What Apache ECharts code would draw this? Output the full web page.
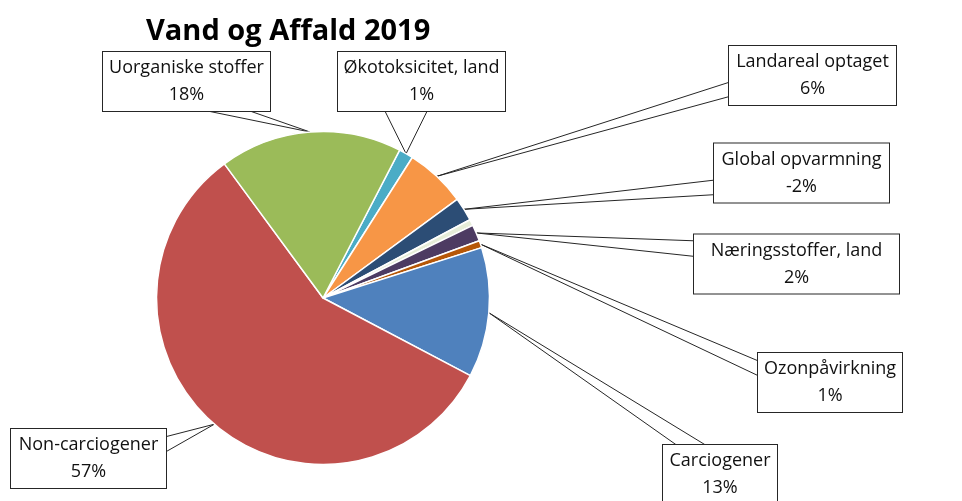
<!DOCTYPE html>
<html>
<head>
<meta charset="utf-8">
<script src="https://cdn.jsdelivr.net/npm/echarts@6/dist/echarts.min.js"></script>
<style>
  html, body { margin: 0; padding: 0; background: #fff; }
  #chart { width: 962px; height: 501px; }
</style>
</head>
<body>
<div id="chart"></div>
<script>
// slices in clockwise order, starting at the top of the light blue slice
const categories = ['Økotoksicitet, land', 'Landareal optaget', 'Global opvarmning', '', 'Næringsstoffer, land', 'Ozonpåvirkning', 'Carciogener', 'Non-carciogener', 'Uorganiske stoffer'];
const values = [1.4, 5.9, -2.3, 0.6, 1.6, 0.7, 12.6, 57.2, 17.7];
const colors = ['#4BACC6', '#F79646', '#2C4D75', '#E6EDD8', '#4D3B62', '#B65708', '#4F81BD', '#C0504D', '#9BBB59'];

// callout boxes [left, top, right, bottom]; null = no label
const labelBoxes = [
  [337, 52, 506, 111],
  [728, 47, 897, 104],
  [713, 144, 890, 202],
  null,
  [693, 233, 900, 295],
  [757, 353, 903, 412],
  [662, 445, 778, 504],
  [10, 429, 167, 488],
  [102, 52, 271, 111]
];

const clamp = (v, lo, hi) => Math.min(Math.max(v, lo), hi);

const seriesData = categories.map((name, i) => {
  const box = labelBoxes[i];
  const item = {
    name,
    value: Math.abs(values[i]),
    itemStyle: { color: colors[i] }
  };
  if (box) {
    item.label = { width: box[2] - box[0] - 2 };
  } else {
    item.label = { show: false };
    item.labelLine = { show: false };
  }
  return item;
});

const chart = echarts.init(document.getElementById('chart'));

chart.setOption({
  animation: false,
  backgroundColor: '#fff',
  title: {
    text: 'Vand og Affald 2019',
    left: 141,
    top: 12,
    textStyle: {
      fontFamily: 'Open Sans',
      fontSize: 29,
      fontWeight: 'bold',
      color: '#000'
    }
  },
  series: [
    {
      type: 'pie',
      center: [323, 298],
      radius: 166.5,
      startAngle: 62.6,
      clockwise: true,
      avoidLabelOverlap: false,
      emphasis: { disabled: true },
      itemStyle: { borderColor: '#fff', borderWidth: 1.5 },
      label: {
        show: true,
        position: 'outside',
        formatter: (p) => {
          const sign = values[p.dataIndex] < 0 ? '-' : '';
          return p.name + '\n' + sign + Math.round(p.percent) + '%';
        },
        fontFamily: 'Open Sans',
        fontSize: 18,
        lineHeight: 27,
        color: '#111',
        align: 'center',
        backgroundColor: '#fff',
        borderColor: '#262626',
        borderWidth: 1,
        padding: [3, 0, 2, 0]
      },
      labelLine: {
        show: true,
        lineStyle: { color: '#262626', width: 1 }
      },
      // place each callout box and draw its wedge pointer to the slice
      labelLayout: (p) => {
        const b = labelBoxes[p.dataIndex];
        if (!b) return {};
        const [x0, y0, x1, y1] = b;
        const cx = (x0 + x1) / 2, cy = (y0 + y1) / 2;
        const w = x1 - x0, h = y1 - y0;
        const tip = p.labelLinePoints ? p.labelLinePoints[0] : [cx, cy];
        const vx = (tip[0] - cx) / (w / 2);
        const vy = (tip[1] - cy) / (h / 2);
        let a, c;
        if (Math.abs(vx) > Math.abs(vy)) {
          const ex = vx < 0 ? x0 : x1;
          const m = clamp(tip[1], y0 + h * 0.25, y1 - h * 0.25);
          a = [ex, m - h * 0.125];
          c = [ex, m + h * 0.125];
        } else {
          const ey = vy < 0 ? y0 : y1;
          const m = clamp(tip[0], x0 + w * 0.25, x1 - w * 0.25);
          a = [m - w * 0.125, ey];
          c = [m + w * 0.125, ey];
        }
        return {
          x: cx,
          y: cy,
          align: 'center',
          verticalAlign: 'middle',
          labelLinePoints: [a, tip, c]
        };
      },
      data: seriesData
    }
  ]
});
</script>
</body>
</html>
